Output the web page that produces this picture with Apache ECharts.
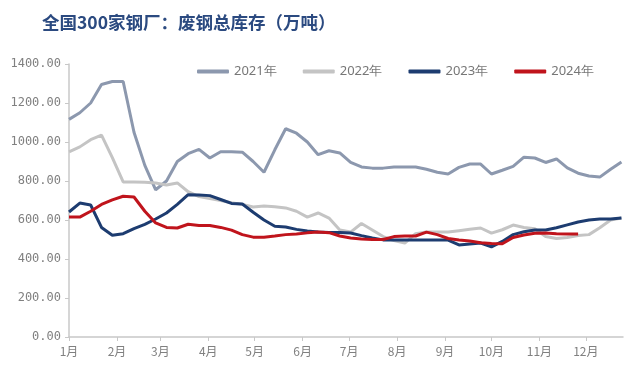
<!DOCTYPE html>
<html>
<head>
<meta charset="utf-8">
<script src="https://cdn.jsdelivr.net/npm/echarts@6/dist/echarts.min.js"></script>
<style>
html,body{margin:0;padding:0;background:#fff;}
#c{width:640px;height:371px;}
</style>
</head>
<body>
<div id="c"></div>
<script>
const titleText = '全国300家钢厂：废钢总库存（万吨）';
const seriesNames = ['2021年', '2022年', '2023年', '2024年'];
const monthLabels = ['1月','2月','3月','4月','5月','6月','7月','8月','9月','10月','11月','12月'];
const monthStartDays = [0,31,59,90,120,151,181,212,243,273,304,334];
const daysPerWeek = 7;

const v2021 = [1116,1150,1200,1295,1310,1310,1050,880,755,800,900,940,962,918,950,950,948,900,845,960,1068,1045,1000,935,955,944,895,872,866,866,872,872,872,860,845,836,870,887,887,836,855,875,922,918,895,913,867,840,826,820,860,897];
const v2022 = [949,975,1012,1035,920,795,795,793,790,780,790,745,720,710,700,688,680,667,672,668,662,645,615,636,610,549,538,582,549,515,495,482,530,538,538,538,545,552,559,533,550,574,562,555,515,505,510,520,525,560,600,610];
const v2023 = [641,687,677,562,522,530,556,578,605,636,680,730,728,725,705,685,682,640,600,568,564,552,544,538,536,536,533,520,508,498,497,497,497,497,497,497,472,477,482,462,490,525,540,549,549,560,575,590,600,605,605,610];
const v2024 = [615,615,645,680,703,722,718,645,585,562,559,578,572,572,562,548,525,512,512,518,525,528,534,538,535,518,508,503,500,500,515,518,518,538,525,505,497,492,483,480,478,510,523,532,533,530,528,528];

const colors = ['#8c98ae', '#c4c4c4', '#1d3c70', '#c0141c'];
const allValues = [v2021, v2022, v2023, v2024];

function toPairs(arr){ return arr.map((v,i)=>[i*daysPerWeek, v]); }

const chart = echarts.init(document.getElementById('c'), null, {renderer:'canvas'});
chart.setOption({
  animation:false,
  backgroundColor:'#fff',
  title:{
    text:titleText, left:37, top:9,
    textStyle:{fontFamily:'Noto Sans CJK SC', fontSize:17.5, fontWeight:'bold', color:'#2b4a80'}
  },
  legend:{
    top:60, left:192, itemWidth:32, itemHeight:4, itemGap:26, icon:'roundRect',
    textStyle:{fontFamily:'Noto Sans', fontSize:13, color:'#777'},
    data:seriesNames
  },
  grid:{left:69, right:17, top:64, bottom:34, containLabel:false},
  xAxis:{
    type:'value', min:0, max:358,
    axisLine:{show:true, lineStyle:{color:'#c8c8c8', width:1.5}},
    splitLine:{show:false},
    axisTick:{show:true, customValues:monthStartDays, length:4, lineStyle:{color:'#c8c8c8'}},
    axisLabel:{customValues:monthStartDays, margin:8, fontFamily:'Noto Sans CJK SC', fontSize:12, color:'#808080',
      formatter:function(v){ const k = monthStartDays.indexOf(v); return k>=0 ? monthLabels[k] : ''; }}
  },
  yAxis:{
    type:'value', min:0, max:1400, interval:200,
    axisLine:{show:true, lineStyle:{color:'#c8c8c8', width:1.5}},
    axisTick:{show:true, length:4, lineStyle:{color:'#c8c8c8'}},
    splitLine:{show:false},
    axisLabel:{margin:8, fontFamily:'DejaVu Sans Mono', fontSize:12, color:'#808080',
      formatter:function(v){ return v.toFixed(2); }}
  },
  series: seriesNames.map((n,k)=>({
    name:n, type:'line', data:toPairs(allValues[k]), symbol:'none', smooth:false,
    lineStyle:{width:3, color:colors[k]}, itemStyle:{color:colors[k]}, z: k+2
  }))
});
</script>
</body>
</html>
